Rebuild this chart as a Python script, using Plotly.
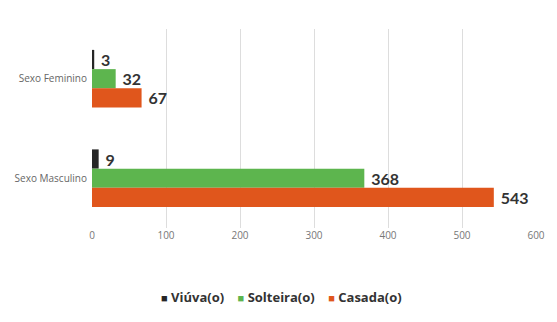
import plotly.graph_objects as go

categories = ["Sexo Feminino", "Sexo Masculino"]
series_names = ["Viúva(o)", "Solteira(o)", "Casada(o)"]
viuva = [3, 9]
solteira = [32, 368]
casada = [67, 543]
colors = ["#262626", "#5DB54E", "#E0561C"]
x_ticks = [0, 100, 200, 300, 400, 500, 600]

fig = go.Figure()
for name, vals, col in zip(series_names, [viuva, solteira, casada], colors):
    fig.add_trace(go.Bar(
        y=categories, x=vals, name=name, orientation="h",
        marker=dict(color=col, line=dict(width=0)),
        text=["\u00a0" + str(v) for v in vals], textposition="outside",
        textfont=dict(family="Lato", size=16, color="#333333", weight="bold"),
        cliponaxis=False, showlegend=False,
    ))

legend_text = "&nbsp;&nbsp;&nbsp;&nbsp;".join(
    f"<span style='color:{c};font-size:11px'>■</span> {n}" for n, c in zip(series_names, colors)
)
fig.add_annotation(text=legend_text, xref="paper", yref="paper", x=0.426, y=-0.347,
                   xanchor="center", yanchor="middle", showarrow=False,
                   font=dict(family="Open Sans", size=13, color="#333333", weight="bold"))

fig.update_layout(
    width=557, height=322,
    barmode="group", bargap=0.42, bargroupgap=0,
    plot_bgcolor="white", paper_bgcolor="white",
    margin=dict(l=92, r=19, t=29, b=94),
    showlegend=False,
    xaxis=dict(range=[0, 600], tickvals=x_ticks, showgrid=True, gridcolor="#DDDDDD",
               gridwidth=1, zeroline=False, showline=False,
               tickfont=dict(family="Open Sans", size=10, color="#777777"), ticks=""),
    yaxis=dict(autorange="reversed", showgrid=False, zeroline=False, showline=False,
               tickfont=dict(family="Open Sans", size=10, color="#666666"), ticks="", ticklabelstandoff=4),
)
fig.write_html("out.html")
